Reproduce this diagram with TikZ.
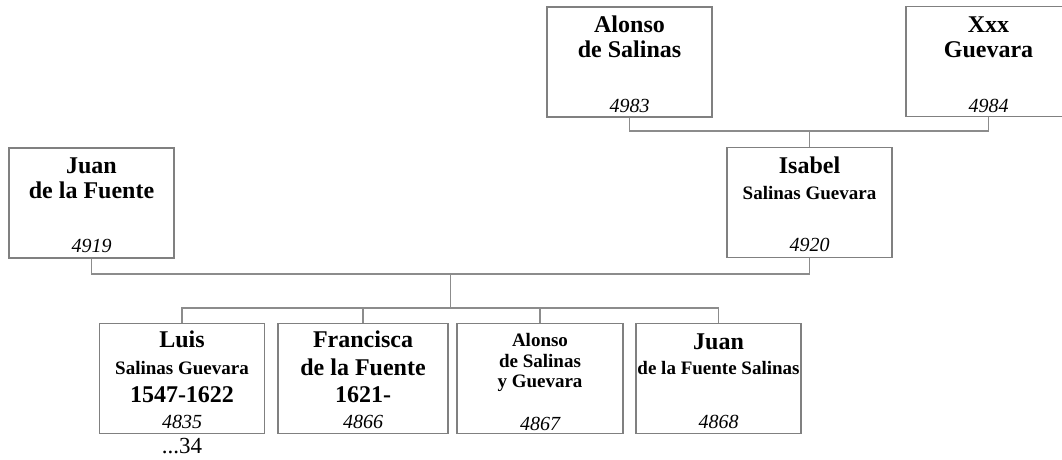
\documentclass[tikz,border=0pt]{standalone}
\usepackage{fontspec}
\setmainfont{Liberation Serif}
\definecolor{boxgray}{RGB}{128,128,128}
\definecolor{linegray}{RGB}{140,140,140}
\tikzset{
  pbox/.style={draw=boxgray, line width=1.3pt, minimum width=165pt, minimum height=110pt, inner sep=0pt, fill=white},
  conn/.style={draw=linegray, line width=1.3pt},
  big/.style={anchor=base, inner sep=0pt, font=\fontsize{24}{24}\selectfont\bfseries},
  small/.style={anchor=base, inner sep=0pt, font=\fontsize{19}{19}\selectfont\bfseries},
  num/.style={anchor=base, inner sep=0pt, font=\fontsize{20}{20}\selectfont\itshape},
  plain/.style={anchor=base, inner sep=0pt, font=\fontsize{23}{23}\selectfont},
}
\begin{document}
\begin{tikzpicture}[x=1pt,y=-1pt]
\useasboundingbox (0,0) rectangle (1062,459);
\clip (0,0) rectangle (1062,459);
% connectors
\coordinate (m1) at (809.5,131);
\coordinate (m2) at (450.5,274);
\coordinate (m3) at (450.5,308);
% boxes
\node[pbox] (A1) at (629.5,62) {};
\node[pbox] (X) at (988.5,61.5) {};
\node[pbox] (I) at (809.5,202.5) {};
\node[pbox] (J) at (91.5,203) {};
\node[pbox] (L) at (182,378.5) {};
\node[pbox, minimum width=170pt] (F) at (363,378.5) {};
\node[pbox, minimum width=166pt] (A2) at (540,378.5) {};
\node[pbox] (N) at (718.5,378.5) {};
\draw[conn] (A1.south) |- (m1) -| (X.south);
\draw[conn] (I.north) -- (m1);
\draw[conn] (J.south) |- (m2) -| (I.south);
\draw[conn] (m2) -- (m3);
\draw[conn] (L.north) |- (m3) -| (N.north);
\draw[conn] (F.north) -- (F.north |- m3);
\draw[conn] (A2.north) -- (A2.north |- m3);
% texts
\node[big] (t1) at (629.5,32) {Alonso};
\node[big] (t2) at (629.5,57) {de Salinas};
\node[num] (t3) at (629.5,112) {4983};
\node[big] (t4) at (988.5,32) {Xxx};
\node[big] (t5) at (988.5,57) {Guevara};
\node[num] (t6) at (988.5,112) {4984};
\node[big] (t7) at (809.5,173) {Isabel};
\node[small] (t8) at (809.5,199) {Salinas Guevara};
\node[num] (t9) at (809.5,251) {4920};
\node[big] (t10) at (91.5,173) {Juan};
\node[big] (t11) at (91.5,198) {de la Fuente};
\node[num] (t12) at (91.5,252) {4919};
\node[big] (t13) at (182,347) {Luis};
\node[small] (t14) at (182,374) {Salinas Guevara};
\node[big] (t15) at (182,402) {1547-1622};
\node[num] (t16) at (182,428) {4835};
\node[plain] (t17) at (182,453) {...34};
\node[big] (t18) at (363,347) {Francisca};
\node[big] (t19) at (363,375) {de la Fuente};
\node[big] (t20) at (363,402) {1621-};
\node[num] (t21) at (363,428) {4866};
\node[small] (t22) at (540,346) {Alonso};
\node[small] (t23) at (540,367) {de Salinas};
\node[small] (t24) at (540,387) {y Guevara};
\node[num] (t25) at (540,430) {4867};
\node[big] (t26) at (718.5,349) {Juan};
\node[small] (t27) at (718.5,374) {de la Fuente Salinas};
\node[num] (t28) at (718.5,428) {4868};
\end{tikzpicture}
\end{document}
